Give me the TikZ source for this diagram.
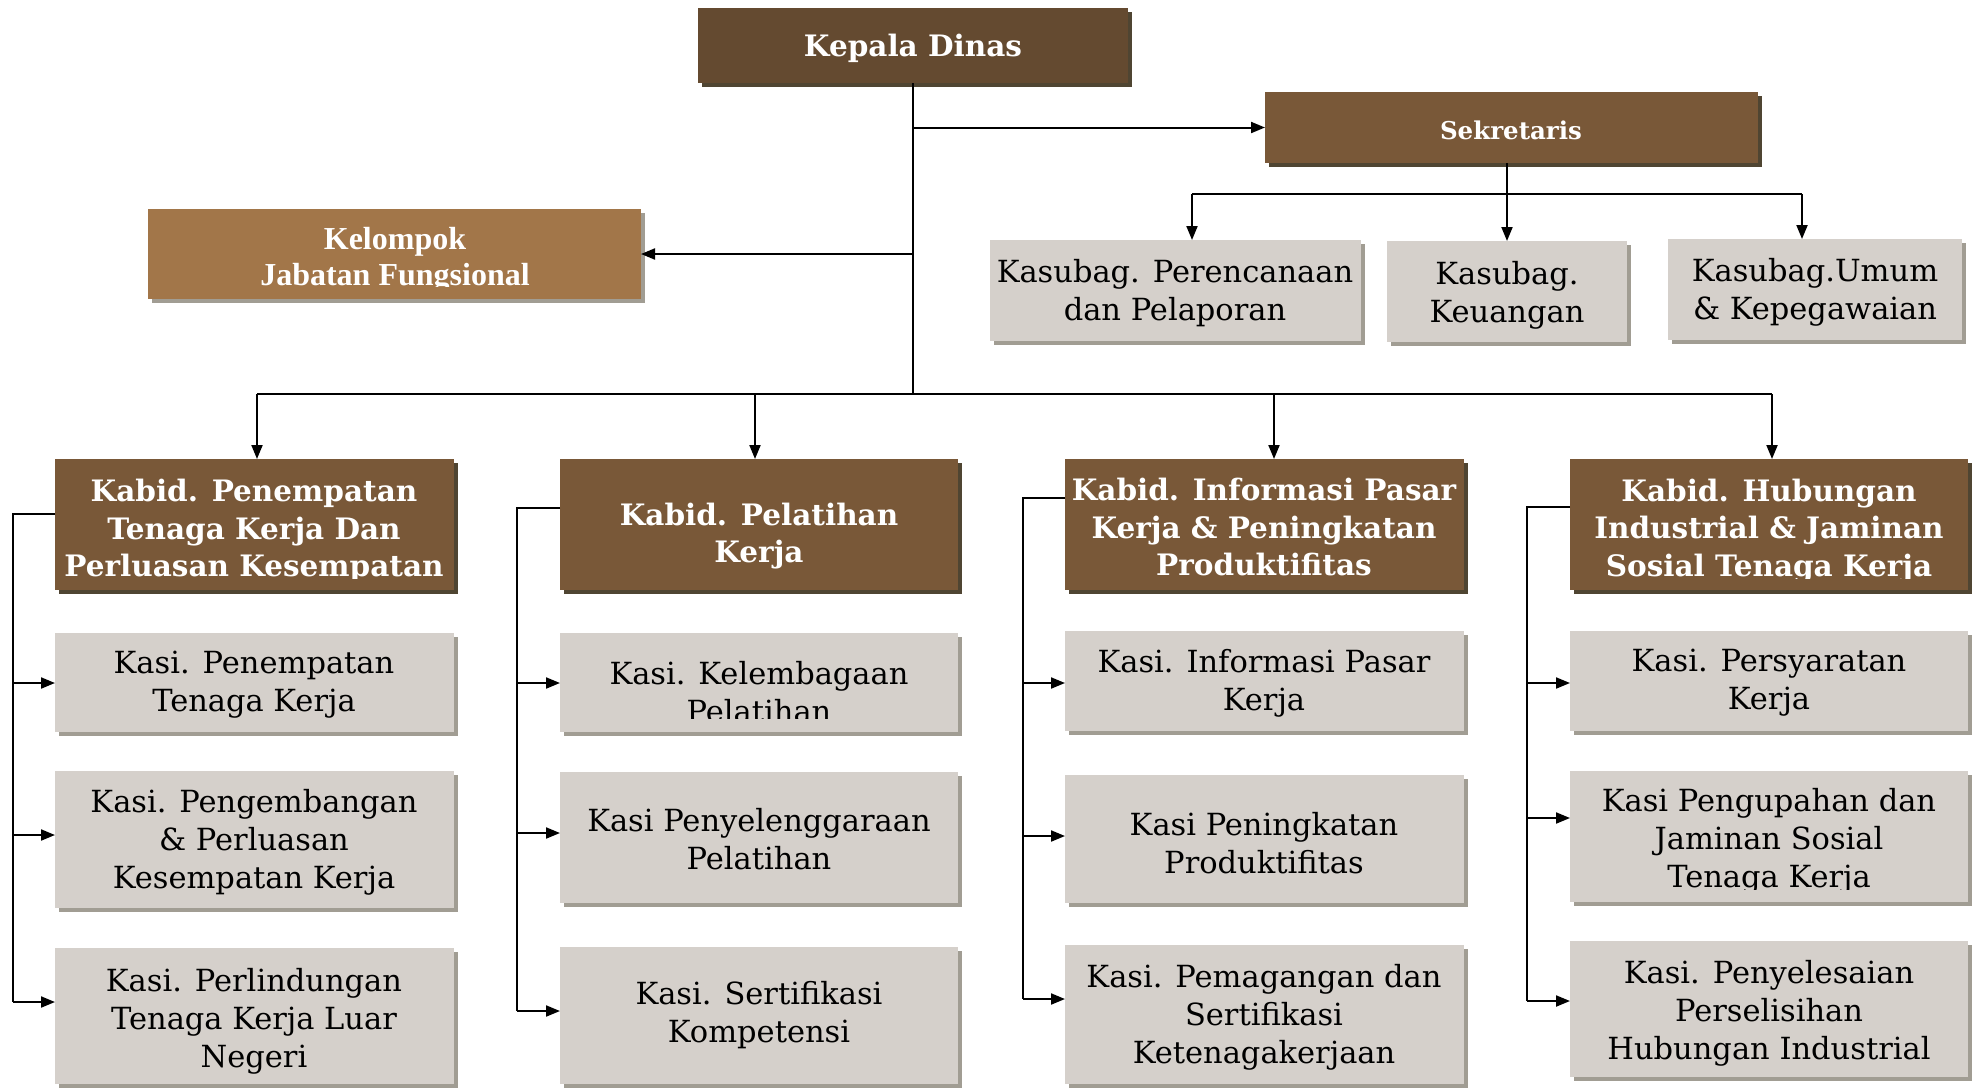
\documentclass[tikz,border=0pt]{standalone}
\usepackage{fontspec}
\setmainfont{DejaVu Serif}
\newfontfamily\timesf{Liberation Serif}
\usetikzlibrary{arrows.meta,shadows}
\definecolor{kdcol}{HTML}{644A30}
\definecolor{brcol}{HTML}{795838}
\definecolor{kelcol}{HTML}{A27649}
\definecolor{greycol}{HTML}{D5D0CB}
\definecolor{greyshadow}{HTML}{A19D93}
\definecolor{brshadow}{HTML}{4F4532}
\tikzset{
  boxbase/.style={rectangle, inner sep=0pt, outer sep=0pt},
  greybox/.style={boxbase, fill=greycol, drop shadow={shadow xshift=4pt, shadow yshift=-4pt, fill=greyshadow, opacity=1}},
  brownbox/.style={boxbase, fill=brcol, drop shadow={shadow xshift=4pt, shadow yshift=-4pt, fill=brshadow, opacity=1}},
  kdbox/.style={boxbase, fill=kdcol, drop shadow={shadow xshift=4pt, shadow yshift=-4pt, fill=brshadow, opacity=1}},
  kelbox/.style={boxbase, fill=kelcol, drop shadow={shadow xshift=4pt, shadow yshift=-4pt, fill=greyshadow, opacity=1}},
  conn/.style={line width=2pt, black},
  arr/.style={conn, -{Triangle[length=14pt,width=11pt]}},
  kasitxt/.style={align=center, inner sep=0pt, text=black, yshift=-3pt, font=\fontsize{30.5}{38}\selectfont},
  kabidtxt/.style={align=center, inner sep=0pt, text=white, yshift=-4pt, font=\bfseries\fontsize{29.5}{37.5}\selectfont},
  sektxt/.style={align=center, inner sep=0pt, text=white, font=\bfseries\fontsize{24.5}{30}\selectfont},
  keltxt/.style={align=center, inner sep=0pt, text=white, yshift=-3pt, font=\timesf\bfseries\fontsize{32}{36}\selectfont},
}
\newcommand\mkbox[6]{\node[#2, minimum width={#5-#3}, minimum height={#6-#4}] (#1) at ({(#3+#5)/2},{(#4+#6)/2}) {};}
\begin{document}
\begin{tikzpicture}[x=1pt,y=-1pt]
\useasboundingbox[fill=white] (0,0) rectangle (1972,1087);
% top
\mkbox{kd}{kdbox}{698}{8}{1128}{83}
\node[kabidtxt] (kdt) at (913,44) {Kepala Dinas};
\mkbox{sek}{brownbox}{1265}{92}{1758}{163}
\node[sektxt] (sekt) at (1511,130) {Sekretaris};
\mkbox{kel}{kelbox}{148}{209}{641}{299}
\begin{scope}\clip (148,209) rectangle (641,286);
\node[keltxt] (kelt) at (395,257) {Kelompok\\Jabatan Fungsional};
\end{scope}
\mkbox{ks1}{greybox}{990}{240}{1361}{341}
\node[kasitxt] (ks1t) at (1175,290) {Kasubag. Perencanaan\\dan Pelaporan};
\mkbox{ks2}{greybox}{1387}{241}{1627}{342}
\node[kasitxt] (ks2t) at (1507,292) {Kasubag.\\Keuangan};
\mkbox{ks3}{greybox}{1668}{239}{1962}{340}
\node[kasitxt] (ks3t) at (1815,289) {Kasubag.Umum\\\& Kepegawaian};
% kabid
\mkbox{kb1}{brownbox}{55}{459}{454}{590}
\begin{scope}\clip (55,459) rectangle (454,578);
\node[kabidtxt] (kb1t) at (254,527) {Kabid. Penempatan\\Tenaga Kerja Dan\\Perluasan Kesempatan};
\end{scope}
\mkbox{kb2}{brownbox}{560}{459}{958}{590}
\node[kabidtxt] (kb2t) at (759,532) {Kabid. Pelatihan\\Kerja};
\mkbox{kb3}{brownbox}{1065}{459}{1464}{590}
\node[kabidtxt] (kb3t) at (1264,523) {Kabid. Informasi Pasar\\Kerja \& Peningkatan\\Produktifitas};
\mkbox{kb4}{brownbox}{1570}{459}{1968}{590}
\begin{scope}\clip (1570,459) rectangle (1968,578);
\node[kabidtxt] (kb4t) at (1769,527) {Kabid. Hubungan\\Industrial \& Jaminan\\Sosial Tenaga Kerja};
\end{scope}
% kasi col 1
\mkbox{k11}{greybox}{55}{633}{454}{732}
\node[kasitxt] (k11t) at (254,682) {Kasi. Penempatan\\Tenaga Kerja};
\mkbox{k12}{greybox}{55}{771}{454}{908}
\node[kasitxt] (k12t) at (254,839) {Kasi. Pengembangan\\\& Perluasan\\Kesempatan Kerja};
\mkbox{k13}{greybox}{55}{948}{454}{1084}
\node[kasitxt] (k13t) at (254,1018) {Kasi. Perlindungan\\Tenaga Kerja Luar\\Negeri};
% col 2
\mkbox{k21}{greybox}{560}{633}{958}{732}
\begin{scope}\clip (560,633) rectangle (958,718);
\node[kasitxt] (k21t) at (759,689) {Kasi. Kelembagaan\\Pelatihan};
\end{scope}
\mkbox{k22}{greybox}{560}{772}{958}{903}
\node[kasitxt] (k22t) at (759,836) {Kasi Penyelenggaraan\\Pelatihan};
\mkbox{k23}{greybox}{560}{947}{958}{1084}
\node[kasitxt] (k23t) at (759,1012) {Kasi. Sertifikasi\\Kompetensi};
% col 3
\mkbox{k31}{greybox}{1065}{631}{1464}{731}
\node[kasitxt] (k31t) at (1264,680) {Kasi. Informasi Pasar\\Kerja};
\mkbox{k32}{greybox}{1065}{775}{1464}{903}
\node[kasitxt] (k32t) at (1264,840) {Kasi Peningkatan\\Produktifitas};
\mkbox{k33}{greybox}{1065}{945}{1464}{1084}
\node[kasitxt] (k33t) at (1264,1014) {Kasi. Pemagangan dan\\Sertifikasi\\Ketenagakerjaan};
% col 4
\mkbox{k41}{greybox}{1570}{631}{1968}{731}
\node[kasitxt] (k41t) at (1769,680) {Kasi. Persyaratan\\Kerja};
\mkbox{k42}{greybox}{1570}{771}{1968}{902}
\begin{scope}\clip (1570,771) rectangle (1968,889);
\node[kasitxt] (k42t) at (1769,838) {Kasi Pengupahan dan\\Jaminan Sosial\\Tenaga Kerja};
\end{scope}
\mkbox{k43}{greybox}{1570}{941}{1968}{1077}
\node[kasitxt] (k43t) at (1769,1010) {Kasi. Penyelesaian\\Perselisihan\\Hubungan Industrial};
% connectors top
\coordinate (busl) at (257,394);
\coordinate (bus2) at (755,394);
\coordinate (bus3) at (1274,394);
\coordinate (busr) at (1772,394);
\draw[conn] (kd.south) -- (kd.south |- busl);
\draw[arr] (kd.south |- sek.west) -- (sek.west);
\draw[arr] (kd.south |- kel.east) -- (kel.east);
\draw[conn] (busl) -- (busr);
\draw[arr] (busl) -- (busl |- kb1.north);
\draw[arr] (bus2) -- (bus2 |- kb2.north);
\draw[arr] (bus3) -- (bus3 |- kb3.north);
\draw[arr] (busr) -- (busr |- kb4.north);
% sekretaris children
\coordinate (sl) at (1192,194);
\coordinate (sr) at (1802,194);
\draw[arr] (sek.south -| ks2.north) -- (ks2.north);
\draw[conn] (sl) -- (sr);
\draw[arr] (sl) -- (sl |- ks1.north);
\draw[arr] (sr) -- (sr |- ks3.north);
% brackets
\coordinate (c1t) at (13,514);
\coordinate (c1a) at (13,683);
\coordinate (c1b) at (13,835);
\coordinate (c1c) at (13,1002);
\draw[conn] (c1t -| kb1.west) -- (c1t) -- (c1c);
\draw[arr] (c1a) -- (c1a -| k11.west);
\draw[arr] (c1b) -- (c1b -| k12.west);
\draw[arr] (c1c) -- (c1c -| k13.west);
\coordinate (c2t) at (517,508);
\coordinate (c2a) at (517,683);
\coordinate (c2b) at (517,833);
\coordinate (c2c) at (517,1011);
\draw[conn] (c2t -| kb2.west) -- (c2t) -- (c2c);
\draw[arr] (c2a) -- (c2a -| k21.west);
\draw[arr] (c2b) -- (c2b -| k22.west);
\draw[arr] (c2c) -- (c2c -| k23.west);
\coordinate (c3t) at (1023,498);
\coordinate (c3a) at (1023,683);
\coordinate (c3b) at (1023,836);
\coordinate (c3c) at (1023,999);
\draw[conn] (c3t -| kb3.west) -- (c3t) -- (c3c);
\draw[arr] (c3a) -- (c3a -| k31.west);
\draw[arr] (c3b) -- (c3b -| k32.west);
\draw[arr] (c3c) -- (c3c -| k33.west);
\coordinate (c4t) at (1527,507);
\coordinate (c4a) at (1527,683);
\coordinate (c4b) at (1527,818);
\coordinate (c4c) at (1527,1001);
\draw[conn] (c4t -| kb4.west) -- (c4t) -- (c4c);
\draw[arr] (c4a) -- (c4a -| k41.west);
\draw[arr] (c4b) -- (c4b -| k42.west);
\draw[arr] (c4c) -- (c4c -| k43.west);
\end{tikzpicture}
\end{document}
